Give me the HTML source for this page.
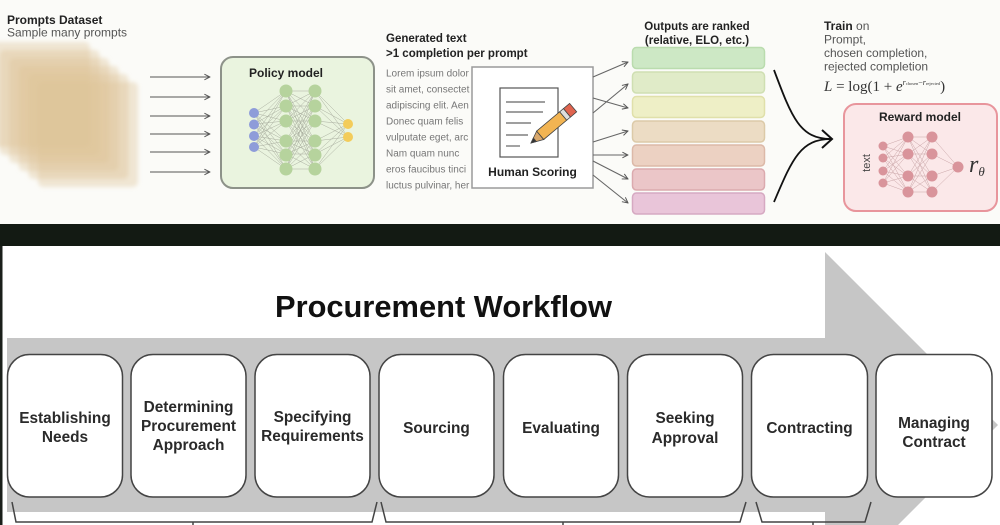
<!DOCTYPE html>
<html><head><meta charset="utf-8"><style>
html,body{margin:0;padding:0;background:#fff;width:1000px;height:525px;overflow:hidden;}
svg{display:block;}
</style></head><body>
<svg width="1000" height="525" viewBox="0 0 1000 525" xmlns="http://www.w3.org/2000/svg" font-family="Liberation Sans, Arial, sans-serif">
<defs>
<marker id="ah" viewBox="0 0 10 10" refX="9" refY="5" markerWidth="7" markerHeight="7" orient="auto" markerUnits="userSpaceOnUse">
<path d="M1,1 L9,5 L1,9" fill="none" stroke="#555" stroke-width="1.4"/>
</marker>
<filter id="blur" x="-20%" y="-20%" width="140%" height="140%"><feGaussianBlur stdDeviation="2"/></filter>
<clipPath id="topclip"><rect x="0" y="0" width="1000" height="224"/></clipPath>
</defs>

<!-- top section background -->
<rect x="0" y="0" width="1000" height="224" fill="#fbfbf8"/>

<!-- Prompts Dataset -->
<text x="7" y="24" font-size="12" font-weight="bold" fill="#222">Prompts Dataset</text>
<text x="7" y="36.5" font-size="12" fill="#555">Sample many prompts</text>
<g filter="url(#blur)" fill="#dcc297" fill-opacity="0.38" clip-path="url(#topclip)">
<rect x="-10" y="42" width="100" height="105" rx="5"/>
<rect x="-0.4" y="50" width="100" height="105" rx="5"/>
<rect x="9.2" y="58" width="100" height="105" rx="5"/>
<rect x="18.8" y="66" width="100" height="105" rx="5"/>
<rect x="28.4" y="74" width="100" height="105" rx="5"/>
<rect x="38" y="82" width="100" height="105" rx="5"/>
</g>

<!-- arrows to policy -->
<g stroke="#555" stroke-width="1.1" marker-end="url(#ah)">
<line x1="150" y1="77" x2="210" y2="77"/>
<line x1="150" y1="97" x2="210" y2="97"/>
<line x1="150" y1="116" x2="210" y2="116"/>
<line x1="150" y1="134" x2="210" y2="134"/>
<line x1="150" y1="152" x2="210" y2="152"/>
<line x1="150" y1="172" x2="210" y2="172"/>
</g>

<!-- Policy model -->
<rect x="221" y="57" width="153" height="131" rx="12" fill="#eaf4df" stroke="#8d9289" stroke-width="2"/>
<text x="286" y="77" font-size="12" font-weight="bold" fill="#222" text-anchor="middle">Policy model</text>
<path fill="none" stroke="#a9ae9f" stroke-width="0.5" d="M254 113L286 91M254 113L286 106M254 113L286 121M254 113L286 141M254 113L286 154M254 113L286 169M254 124L286 91M254 124L286 106M254 124L286 121M254 124L286 141M254 124L286 154M254 124L286 169M254 136L286 91M254 136L286 106M254 136L286 121M254 136L286 141M254 136L286 154M254 136L286 169M254 147L286 91M254 147L286 106M254 147L286 121M254 147L286 141M254 147L286 154M254 147L286 169M286 91L315 91M286 91L315 106M286 91L315 121M286 91L315 141M286 91L315 154M286 91L315 169M286 106L315 91M286 106L315 106M286 106L315 121M286 106L315 141M286 106L315 154M286 106L315 169M286 121L315 91M286 121L315 106M286 121L315 121M286 121L315 141M286 121L315 154M286 121L315 169M286 141L315 91M286 141L315 106M286 141L315 121M286 141L315 141M286 141L315 154M286 141L315 169M286 154L315 91M286 154L315 106M286 154L315 121M286 154L315 141M286 154L315 154M286 154L315 169M286 169L315 91M286 169L315 106M286 169L315 121M286 169L315 141M286 169L315 154M286 169L315 169M315 91L348 124M315 106L348 124M315 121L348 124M315 141L348 124M315 154L348 124M315 169L348 124M315 91L348 137M315 106L348 137M315 121L348 137M315 141L348 137M315 154L348 137M315 169L348 137"/>
<g fill="#8e9cd9"><circle cx="254" cy="113" r="5"/><circle cx="254" cy="124.5" r="5"/><circle cx="254" cy="136" r="5"/><circle cx="254" cy="147" r="5"/></g>
<g fill="#b6d39d"><circle cx="286" cy="91" r="6.5"/><circle cx="286" cy="106" r="6.5"/><circle cx="286" cy="121" r="6.5"/><circle cx="286" cy="141" r="6.5"/><circle cx="286" cy="155" r="6.5"/><circle cx="286" cy="169" r="6.5"/>
<circle cx="315" cy="91" r="6.5"/><circle cx="315" cy="106" r="6.5"/><circle cx="315" cy="121" r="6.5"/><circle cx="315" cy="141" r="6.5"/><circle cx="315" cy="155" r="6.5"/><circle cx="315" cy="169" r="6.5"/></g>
<g fill="#f3cc5a"><circle cx="348" cy="124" r="5"/><circle cx="348" cy="137" r="5"/></g>

<!-- Generated text -->
<text x="386" y="42" font-size="11.5" font-weight="bold" fill="#222">Generated text</text>
<text x="386" y="57" font-size="11.5" font-weight="bold" fill="#222">&gt;1 completion per prompt</text>
<g font-size="10" fill="#777">
<text x="386" y="76.5">Lorem ipsum dolor</text>
<text x="386" y="92.5">sit amet, consectet</text>
<text x="386" y="108.5">adipiscing elit. Aen</text>
<text x="386" y="124.5">Donec quam felis</text>
<text x="386" y="140.5">vulputate eget, arc</text>
<text x="386" y="156.5">Nam quam nunc</text>
<text x="386" y="172.5">eros faucibus tinci</text>
<text x="386" y="188.5">luctus pulvinar, her</text>
</g>

<!-- Human scoring box -->
<rect x="472" y="67" width="121" height="121" fill="#fff" stroke="#9a9a9a" stroke-width="1.5"/>
<rect x="500" y="88" width="58" height="69" fill="#fff" stroke="#555" stroke-width="1.2"/>
<g stroke="#666" stroke-width="1.2">
<line x1="506" y1="102" x2="545" y2="102"/>
<line x1="506" y1="112" x2="543" y2="112"/>
<line x1="506" y1="123" x2="531" y2="123"/>
<line x1="506" y1="135" x2="528" y2="135"/>
<line x1="506" y1="146" x2="520" y2="146"/>
</g>
<g transform="translate(531,143) rotate(-40)" stroke="#444" stroke-width="0.8">
<polygon points="0,0 12,-5.5 12,5.5" fill="#d9a86c"/>
<polygon points="0,0 5,-2.3 5,2.3" fill="#333"/>
<rect x="12" y="-5.5" width="30" height="11" fill="#f2b452"/>
<rect x="42" y="-5.5" width="5" height="11" fill="#ddd"/>
<rect x="47" y="-5.5" width="8" height="11" fill="#e0644f"/>
</g>
<text x="532.5" y="176" font-size="12" font-weight="bold" fill="#222" text-anchor="middle">Human Scoring</text>

<!-- arrows to ranks -->
<g stroke="#666" stroke-width="1.1" marker-end="url(#ah)">
<line x1="593" y1="77" x2="628" y2="62"/>
<line x1="593" y1="113" x2="628" y2="84"/>
<line x1="593" y1="98" x2="628" y2="108"/>
<line x1="593" y1="142" x2="628" y2="131"/>
<line x1="593" y1="155" x2="628" y2="155"/>
<line x1="593" y1="161" x2="628" y2="179"/>
<line x1="593" y1="175" x2="628" y2="203"/>
</g>

<!-- ranked outputs -->
<text x="697" y="30" font-size="11.5" font-weight="bold" fill="#222" text-anchor="middle">Outputs are ranked</text>
<text x="697" y="44" font-size="11.5" font-weight="bold" fill="#222" text-anchor="middle">(relative, ELO, etc.)</text>
<g stroke-width="1.5">
<rect x="632.5" y="47.5" width="132" height="21" rx="4" fill="#cde8c5" stroke="#badcae"/>
<rect x="632.5" y="72" width="132" height="21" rx="4" fill="#e0ebc8" stroke="#cfdfb2"/>
<rect x="632.5" y="96.5" width="132" height="21" rx="4" fill="#eeefc6" stroke="#e0e0aa"/>
<rect x="632.5" y="121" width="132" height="21" rx="4" fill="#ecdcc4" stroke="#dccaa8"/>
<rect x="632.5" y="145" width="132" height="21" rx="4" fill="#ecd1c2" stroke="#dcb9a8"/>
<rect x="632.5" y="169" width="132" height="21" rx="4" fill="#ebc6c8" stroke="#dbaaae"/>
<rect x="632.5" y="193" width="132" height="21" rx="4" fill="#e9c5d9" stroke="#d6a9c2"/>
</g>

<!-- curved arrows -->
<g fill="none" stroke="#111" stroke-width="1.8">
<path d="M774,70 C792,118 800,139 831,139"/>
<path d="M774,202 C792,160 800,139 831,139"/>
<polyline points="822,130 832,139 822,148" stroke-width="2"/>
</g>

<!-- Train on -->
<g font-size="12" fill="#555">
<text x="824" y="30"><tspan font-weight="bold" fill="#222">Train</tspan> on</text>
<text x="824" y="43.5">Prompt,</text>
<text x="824" y="57">chosen completion,</text>
<text x="824" y="70.5">rejected completion</text>
</g>
<text x="824" y="91" font-family="Liberation Serif, serif" font-size="15" fill="#333"><tspan font-style="italic">L</tspan> = log(1 + <tspan font-style="italic">e</tspan><tspan font-size="8" dy="-6" font-style="italic">r</tspan><tspan font-size="4.5">chosen</tspan><tspan font-size="8">−</tspan><tspan font-size="8" font-style="italic">r</tspan><tspan font-size="4.5">rejected</tspan><tspan dy="6">)</tspan></text>

<!-- Reward model -->
<rect x="844" y="104" width="153" height="107" rx="12" fill="#fbe8e9" stroke="#e8959c" stroke-width="2"/>
<text x="920" y="121" font-size="12" font-weight="bold" fill="#222" text-anchor="middle">Reward model</text>
<text x="0" y="0" font-size="11" fill="#444" text-anchor="middle" transform="translate(870,163) rotate(-90)">text</text>
<path fill="none" stroke="#c9a5a7" stroke-width="0.5" d="M883 146L908 137M883 146L908 154M883 146L908 176M883 146L908 192M883 158L908 137M883 158L908 154M883 158L908 176M883 158L908 192M883 171L908 137M883 171L908 154M883 171L908 176M883 171L908 192M883 183L908 137M883 183L908 154M883 183L908 176M883 183L908 192M908 137L932 137M908 137L932 154M908 137L932 176M908 137L932 192M908 154L932 137M908 154L932 154M908 154L932 176M908 154L932 192M908 176L932 137M908 176L932 154M908 176L932 176M908 176L932 192M908 192L932 137M908 192L932 154M908 192L932 176M908 192L932 192M932 137L958 167M932 154L958 167M932 176L958 167M932 192L958 167"/>
<g fill="#d9949b">
<circle cx="883" cy="146" r="4.5"/><circle cx="883" cy="158" r="4.5"/><circle cx="883" cy="171" r="4.5"/><circle cx="883" cy="183" r="4.5"/>
<circle cx="908" cy="137" r="5.5"/><circle cx="908" cy="154" r="5.5"/><circle cx="908" cy="176" r="5.5"/><circle cx="908" cy="192" r="5.5"/>
<circle cx="932" cy="137" r="5.5"/><circle cx="932" cy="154" r="5.5"/><circle cx="932" cy="176" r="5.5"/><circle cx="932" cy="192" r="5.5"/>
<circle cx="958" cy="167" r="5.5"/>
</g>
<text x="969" y="172" font-family="Liberation Serif, serif" font-style="italic" font-size="24" fill="#333">r<tspan font-size="13" dy="4">θ</tspan></text>

<!-- black band -->
<rect x="0" y="224" width="1000" height="22" fill="#131a13"/>

<!-- lower section -->
<rect x="0" y="246" width="1000" height="279" fill="#fff"/>
<rect x="0" y="246" width="2.5" height="279" fill="#1a1f1a"/>
<polygon points="7,338 825,338 825,252 998,425 898,525 825,525 825,512 7,512" fill="#c6c6c6"/>

<text x="275" y="317" font-size="31" font-weight="bold" fill="#111" textLength="337" lengthAdjust="spacingAndGlyphs">Procurement Workflow</text>

<g fill="#fff" stroke="#444" stroke-width="1.5">
<rect x="7.5" y="354.5" width="115" height="142.5" rx="22"/>
<rect x="131" y="354.5" width="115" height="142.5" rx="22"/>
<rect x="255" y="354.5" width="115" height="142.5" rx="22"/>
<rect x="379" y="354.5" width="115" height="142.5" rx="22"/>
<rect x="503.5" y="354.5" width="115" height="142.5" rx="22"/>
<rect x="627.5" y="354.5" width="115" height="142.5" rx="22"/>
<rect x="751.5" y="354.5" width="116" height="142.5" rx="22"/>
<rect x="876" y="354.5" width="116" height="142.5" rx="22"/>
</g>

<g font-size="15.4" font-weight="bold" fill="#2a2a2a" text-anchor="middle">
<text x="65" y="423">Establishing</text>
<text x="65" y="442">Needs</text>
<text x="188.5" y="412">Determining</text>
<text x="188.5" y="431">Procurement</text>
<text x="188.5" y="450">Approach</text>
<text x="312.5" y="422">Specifying</text>
<text x="312.5" y="441">Requirements</text>
<text x="436.5" y="433">Sourcing</text>
<text x="561" y="433">Evaluating</text>
<text x="685" y="423">Seeking</text>
<text x="685" y="443">Approval</text>
<text x="809.5" y="433">Contracting</text>
<text x="934" y="428">Managing</text>
<text x="934" y="447">Contract</text>
</g>

<!-- brackets -->
<g fill="none" stroke="#444" stroke-width="1.5">
<path d="M12,502 L16,522 L372,522 L377,502"/>
<path d="M193,522 V525"/>
<path d="M381,502 L386,522 L740,522 L746,502"/>
<path d="M563,522 V525"/>
<path d="M756,502 L762,522 L865,522 L871,502"/>
<path d="M813,522 V525"/>
</g>
</svg>
</body></html>
